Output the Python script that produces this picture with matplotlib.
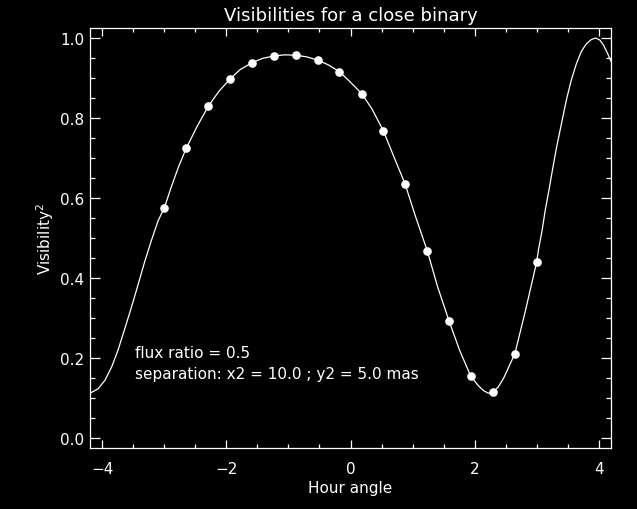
import matplotlib
matplotlib.use("Agg")
import matplotlib.pyplot as plt
from matplotlib.ticker import MultipleLocator

# measured points (hour angle, V^2)
ha_points = [-3.00, -2.65, -2.29, -1.94, -1.59, -1.24, -0.88, -0.53, -0.18,
             0.18, 0.53, 0.88, 1.24, 1.59, 1.94, 2.29, 2.65, 3.00]
v2_points = [0.576, 0.724, 0.830, 0.898, 0.938, 0.955, 0.957, 0.945, 0.916,
             0.861, 0.768, 0.635, 0.467, 0.292, 0.154, 0.114, 0.211, 0.439]

# model curve
ha_curve = [-4.20, -4.07, -3.96, -3.85, -3.75, -3.64, -3.53, -3.42, -3.32, -3.21,
            -3.10, -3.00, -2.90, -2.78, -2.65, -2.47, -2.29, -2.12, -1.94, -1.78,
            -1.59, -1.42, -1.24, -1.06, -0.88, -0.71, -0.53, -0.36, -0.18, -0.01,
            0.18, 0.345, 0.53, 0.70, 0.88, 1.05, 1.24, 1.40, 1.59, 1.76,
            1.94, 2.06, 2.14, 2.22, 2.29, 2.38, 2.47, 2.65, 2.82, 3.00,
            3.03, 3.09, 3.14, 3.20, 3.25, 3.32, 3.40, 3.48, 3.56, 3.64,
            3.72, 3.80, 3.88, 3.95, 4.02, 4.08, 4.14, 4.20]
v2_curve = [0.112, 0.123, 0.144, 0.178, 0.219, 0.273, 0.328, 0.386, 0.440, 0.494,
            0.544, 0.576, 0.623, 0.675, 0.724, 0.780, 0.830, 0.867, 0.898, 0.921,
            0.938, 0.949, 0.955, 0.958, 0.957, 0.953, 0.945, 0.933, 0.916, 0.891,
            0.861, 0.823, 0.768, 0.703, 0.635, 0.553, 0.467, 0.380, 0.292, 0.219,
            0.154, 0.131, 0.119, 0.112, 0.114, 0.127, 0.150, 0.211, 0.318, 0.439,
            0.470, 0.520, 0.570, 0.620, 0.665, 0.725, 0.785, 0.845, 0.895, 0.935,
            0.966, 0.985, 0.996, 1.000, 0.995, 0.982, 0.963, 0.942]

fig = plt.figure(figsize=(6.37, 5.10), dpi=100, facecolor="black")
ax = fig.add_axes([0.1413, 0.1196, 0.8179, 0.8235], facecolor="black")

ax.plot(ha_curve, v2_curve, color="white", lw=0.9)
ax.plot(ha_points, v2_points, "o", color="white", ms=6.2, mec="none")

ax.set_xlim(-4.2, 4.2)
ax.set_ylim(-0.025, 1.025)
ax.xaxis.set_major_locator(MultipleLocator(2))
ax.xaxis.set_minor_locator(MultipleLocator(0.5))
ax.yaxis.set_major_locator(MultipleLocator(0.2))
ax.yaxis.set_minor_locator(MultipleLocator(0.05))
ax.yaxis.set_major_formatter(plt.FormatStrFormatter("%.1f"))

for s in ax.spines.values():
    s.set_color("white")
    s.set_linewidth(0.9)
ax.tick_params(which="both", direction="in", colors="white", top=True, right=True,
               width=0.9, labelsize=11)
ax.tick_params(axis="x", which="major", length=6, pad=9)
ax.tick_params(axis="x", which="minor", length=3)
ax.tick_params(axis="y", which="major", length=7.5, pad=4)
ax.tick_params(axis="y", which="minor", length=3.75)

ax.set_title("Visibilities for a close binary", color="white", fontsize=13, pad=6)
ax.set_xlabel("Hour angle", color="white", fontsize=11, labelpad=3)
ax.set_ylabel("Visibility$^2$", color="white", fontsize=11, labelpad=3)

ax.text(-3.48, 0.213, "flux ratio = 0.5", color="white", fontsize=11, va="center")
ax.text(-3.48, 0.161, "separation: x2 = 10.0 ; y2 = 5.0 mas", color="white",
        fontsize=11, va="center")

fig.savefig("out.png", dpi=100, facecolor="black")
